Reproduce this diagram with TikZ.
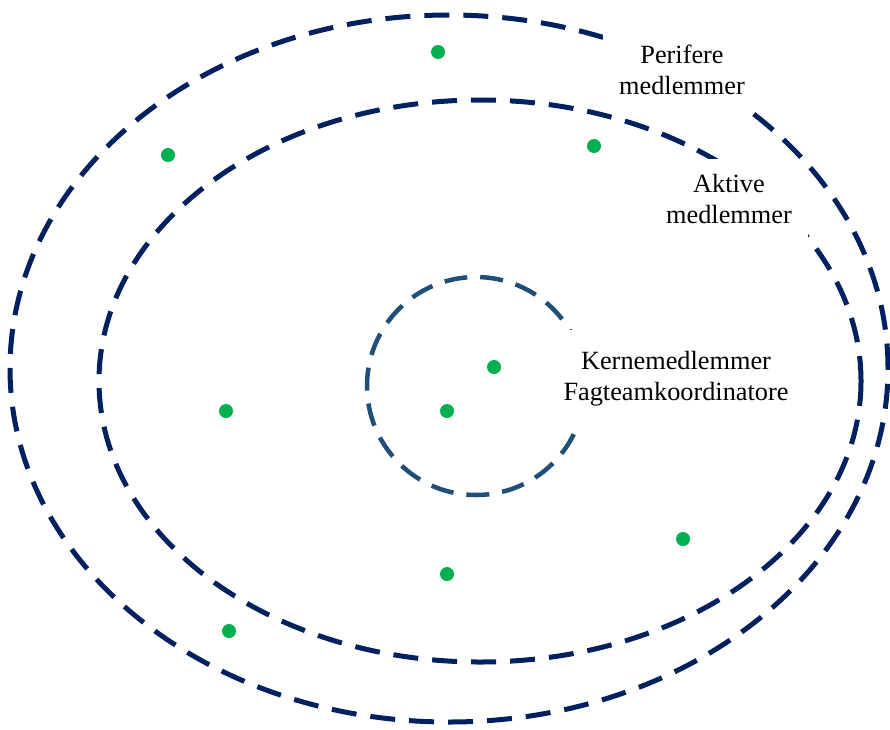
\documentclass[tikz,border=0pt]{standalone}
\usepackage{fontspec}
\setmainfont{Liberation Serif}
\definecolor{navy}{HTML}{002060}
\definecolor{midblue}{HTML}{1F4E79}
\definecolor{dotgreen}{HTML}{00B050}
\begin{document}
\begin{tikzpicture}[x=1pt,y=-1pt,
  ring/.style={draw=navy,line width=5pt,dash pattern=on 25pt off 14pt},
  corering/.style={draw=midblue,line width=4.5pt,dash pattern=on 23pt off 13pt},
  lbl/.style={fill=white,align=center,inner sep=0pt,font=\fontsize{26.3}{31}\selectfont},
  member/.style={fill=dotgreen}]
\useasboundingbox (0,0) rectangle (890,729);
\fill[white] (0,0) rectangle (890,729);
\draw[ring] (449,368.5) ellipse [x radius=439pt, y radius=353.5pt];
\draw[ring] (480,381) ellipse [x radius=381pt, y radius=281pt];
\draw[corering] (476,386) circle [radius=109pt];
\node[lbl,minimum width=159pt,minimum height=82pt] (per) at (682,70) {Perifere\\medlemmer};
\node[lbl,minimum width=158pt,minimum height=80pt] (akt) at (729,199) {Aktive\\medlemmer};
\node[lbl,minimum width=237pt,minimum height=98pt] (ker) at (676,379) {Kernemedlemmer\\Fagteamkoordinatore};
\foreach \n/\p in {d1/{(438,52)},d2/{(168,155)},d3/{(594,146)},d4/{(494,367)},d5/{(447,411)},d6/{(226,411)},d7/{(683,539)},d8/{(447,574)},d9/{(229,631)}}
  \fill[member] \p circle [radius=7pt];
\end{tikzpicture}
\end{document}
